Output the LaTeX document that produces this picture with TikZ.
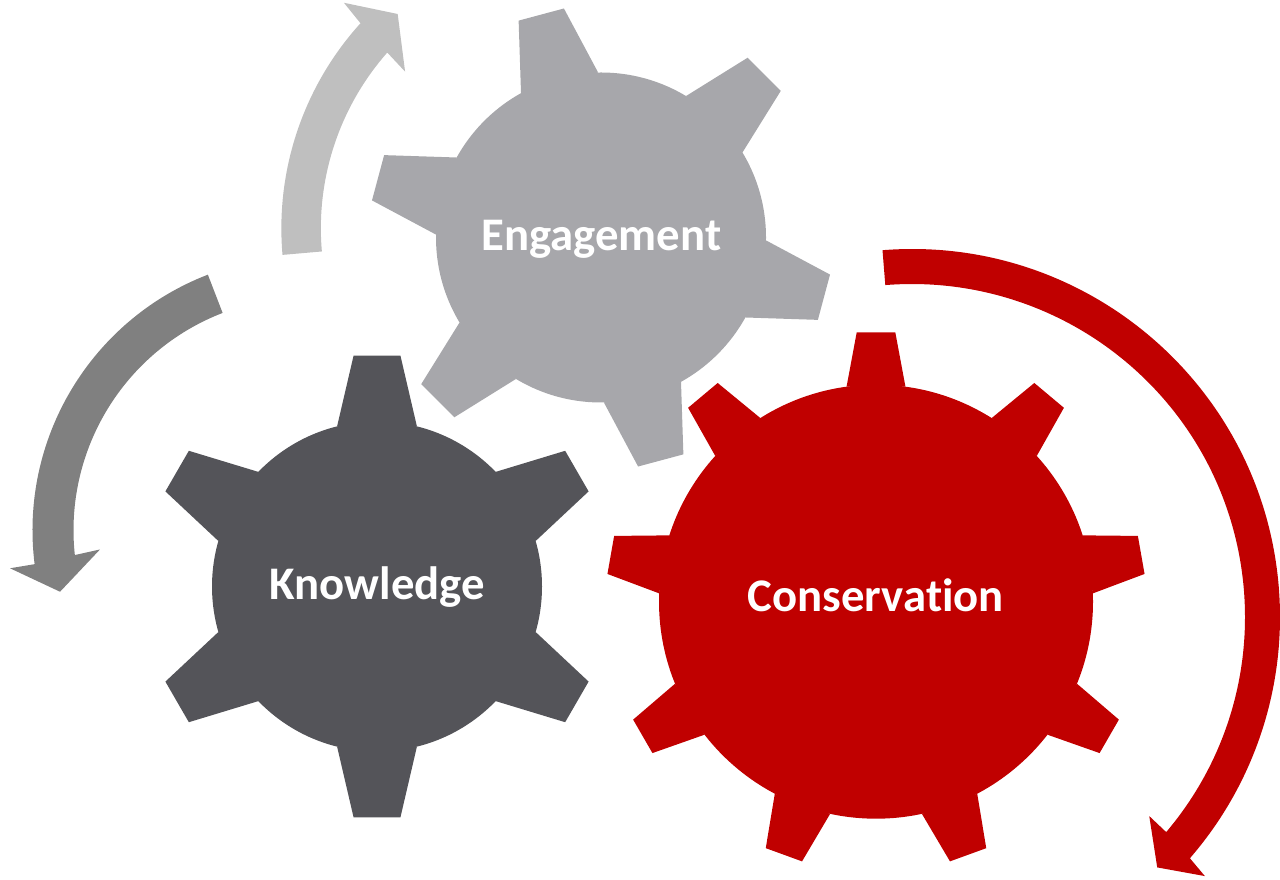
\documentclass[tikz,border=0pt]{standalone}
\usepackage{fontspec}
\setmainfont{Carlito}[Ligatures = NoCommon]
\usepackage{tikz}

\definecolor{engagegray}{HTML}{A7A7AB}
\definecolor{knowgray}{HTML}{545459}
\definecolor{conservred}{HTML}{C00000}
\definecolor{arrowlight}{HTML}{BFBFBF}
\definecolor{arrowdark}{HTML}{808080}

\begin{document}
\begin{tikzpicture}[x = 0.02cm, y = 0.02cm,
	gear label/.style = {anchor = base, text = white, inner sep = 0pt,
		font = \fontsize{26.6}{32}\selectfont\bfseries}]

	\useasboundingbox (0, 0) rectangle (1280, 879);

	% Definitions
	
	\def\Rsmall{165}	% Body radius of the two small gears
	\def\Tsmall{232}	% Tip radius of the small gears
	\def\Bsmall{14}		% Half angle of a small tooth at the body
	\def\Psmall{5.8}	% Half angle of a small tooth at the tip
	\def\Rlarge{217}	% Body radius of the large gear
	\def\Tlarge{270}	% Tip radius of the large gear
	\def\Blarge{7.8}	% Half angle of a large tooth at the body
	\def\Plarge{4.1}	% Half angle of a large tooth at the tip

	\coordinate (engage) at (601, 641.5);
	\coordinate (know) at (377, 292.5);
	\coordinate (conserve) at (876, 277.3);

	\coordinate (lightc) at (586.6, 650.7);
	\coordinate (darkc) at (306.5, 348.7);
	\coordinate (redc) at (912, 262);

	% Circular arrows, each one around its own centre
	
	\begin{scope}[shift = {(lightc)}]
		\fill [arrowlight] (185 : 305.25) arc (185 : 137.8 : 305.25)
			-- (137.1 : 331.3) -- (131.4 : 285.7) -- (139.2 : 239.8)
			-- (138.6 : 265.75) arc (138.6 : 185 : 265.75) -- cycle;
	\end{scope}
	
	\begin{scope}[shift = {(darkc)}]
		\fill [arrowdark] (111.1 : 274) arc (111.1 : 187.1 : 274)
			-- (187.3 : 298.9) -- (194 : 254) -- (185.3 : 207.4)
			-- (186.1 : 233) arc (186.1 : 111.1 : 233) -- cycle;
	\end{scope}
	
	\begin{scope}[shift = {(redc)}]
		\fill [conservred] (94.6 : 368) arc (94.6 : -40.96 : 368)
			-- (-41.5 : 391) -- (-45.6 : 350.5) -- (-40 : 309.7)
			-- (-40.24 : 333) arc (-40.24 : 94.6 : 333) -- cycle;
	\end{scope}

	% Gears: a disc and one trapezoid per tooth
	
	\begin{scope}[shift = {(engage)}, engagegray]
		\fill (0, 0) circle (\Rsmall);
		\foreach \a in {-15, 45, ..., 285}
			\fill ({\a - \Bsmall} : \Rsmall) -- ({\a - \Psmall} : \Tsmall)
				-- ({\a + \Psmall} : \Tsmall) -- ({\a + \Bsmall} : \Rsmall) -- cycle;
	\end{scope}
	
	\begin{scope}[shift = {(know)}, knowgray]
		\fill (0, 0) circle (\Rsmall);
		\foreach \a in {30, 90, ..., 330}
			\fill ({\a - \Bsmall} : \Rsmall) -- ({\a - \Psmall} : \Tsmall)
				-- ({\a + \Psmall} : \Tsmall) -- ({\a + \Bsmall} : \Rsmall) -- cycle;
	\end{scope}
	
	\begin{scope}[shift = {(conserve)}, conservred]
		\fill (0, 0) circle (\Rlarge);
		\foreach \a in {10, 50, ..., 330}
			\fill ({\a - \Blarge} : \Rlarge) -- ({\a - \Plarge} : \Tlarge)
				-- ({\a + \Plarge} : \Tlarge) -- ({\a + \Blarge} : \Rlarge) -- cycle;
	\end{scope}

	% Labels
	
	\node [gear label] (engagetext) at (601.3, 628.3) {Engagement};
	\node [gear label] (knowtext) at (377.2, 279.7) {Knowledge};
	\node [gear label] (conservetext) at (875.9, 268) {Conservation};

\end{tikzpicture}
\end{document}
